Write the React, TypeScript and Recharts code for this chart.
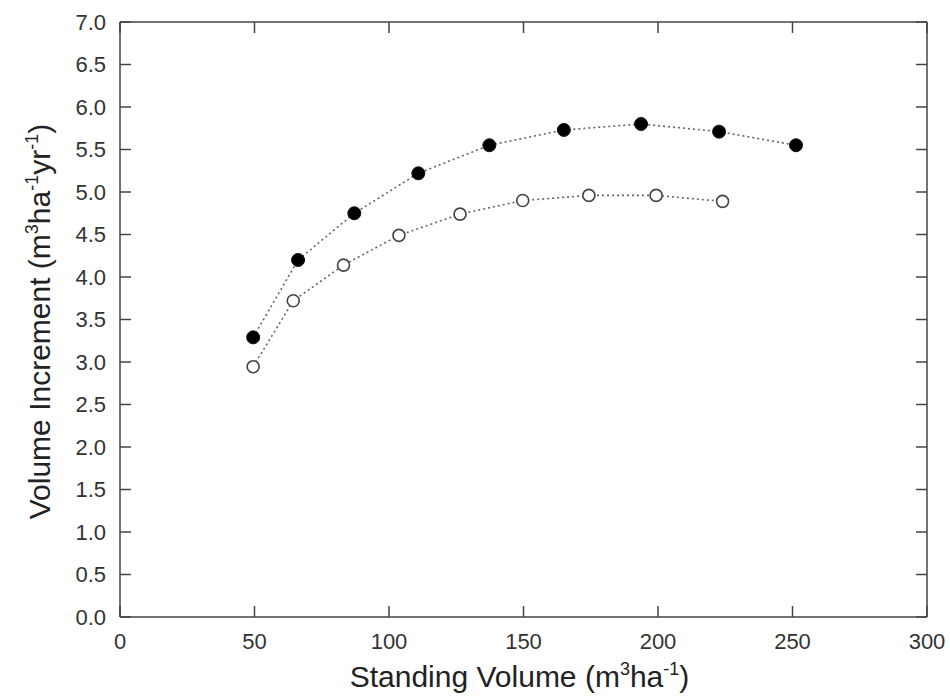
import React from "react";
import { ComposedChart, Line, XAxis, YAxis } from "recharts";

// Filled circles series
const filledX = [49.5, 66.2, 87.1, 110.9, 137.3, 165.0, 193.7, 222.7, 251.3];
const filledY = [3.29, 4.2, 4.75, 5.22, 5.55, 5.73, 5.8, 5.71, 5.55];
// Open circles series
const openX = [49.5, 64.4, 83.1, 103.7, 126.4, 149.7, 174.3, 199.3, 224.0];
const openY = [2.945, 3.72, 4.14, 4.49, 4.74, 4.9, 4.96, 4.96, 4.89];

const xTicks = [0, 50, 100, 150, 200, 250, 300];
const yTicks = [0, 0.5, 1, 1.5, 2, 2.5, 3, 3.5, 4, 4.5, 5, 5.5, 6, 6.5, 7];

const filledData = filledX.map((x, i) => ({ x, y: filledY[i] }));
const openData = openX.map((x, i) => ({ x, y: openY[i] }));

const FONT = "'Liberation Sans', Arial, sans-serif";
const AXIS = "#444";
const tickStyle = { fill: "#333", fontSize: 22, fontFamily: FONT };

const XTitle = (props: any) => {
  const vb = props.viewBox || { x: 120, y: 617, width: 807, height: 40 };
  const cx = vb.x + vb.width / 2 - 4;
  const y = vb.y + 70;
  return (
    <text x={cx} y={y} textAnchor="middle" fontSize={30} fill="#222" fontFamily={FONT}>
      Standing Volume (m
      <tspan dy={-12} fontSize={18}>3</tspan>
      <tspan dy={12}>ha</tspan>
      <tspan dy={-12} fontSize={18}>-1</tspan>
      <tspan dy={12}>)</tspan>
    </text>
  );
};

const YTitle = (props: any) => {
  const vb = props.viewBox || { x: 60, y: 22, width: 60, height: 595 };
  const x = vb.x - 10;
  const cy = vb.y + vb.height / 2 + 2;
  return (
    <text
      x={x}
      y={cy}
      transform={`rotate(-90 ${x} ${cy})`}
      textAnchor="middle"
      fontSize={30}
      fill="#222"
      fontFamily={FONT}
    >
      Volume Increment (m
      <tspan dy={-12} fontSize={18}>3</tspan>
      <tspan dy={12}>ha</tspan>
      <tspan dy={-12} fontSize={18}>-1</tspan>
      <tspan dy={12}>yr</tspan>
      <tspan dy={-12} fontSize={18}>-1</tspan>
      <tspan dy={12}>)</tspan>
    </text>
  );
};

const FilledDot = (props: any) => {
  const { cx, cy } = props;
  if (cx == null || cy == null) return null;
  return <circle cx={cx} cy={cy} r={6.5} fill="#000" stroke="#111" strokeWidth={1} />;
};

const OpenDot = (props: any) => {
  const { cx, cy } = props;
  if (cx == null || cy == null) return null;
  return <circle cx={cx} cy={cy} r={6} fill="#fff" stroke="#444" strokeWidth={1.6} />;
};

export default function App() {
  return (
    <div style={{ position: "absolute", left: 0, top: 0, width: 950, height: 699, background: "#fff" }}>
      <ComposedChart
        width={950}
        height={699}
        margin={{ top: 21, right: 22, bottom: 42, left: 60 }}
        style={{ fontFamily: FONT }}
      >
        <XAxis
          xAxisId="b"
          type="number"
          dataKey="x"
          domain={[0, 300]}
          ticks={xTicks}
          allowDataOverflow
          height={40}
          tickSize={-11}
          tickMargin={27}
          stroke={AXIS}
          strokeWidth={1.5}
          tick={tickStyle}
          tickLine={{ stroke: AXIS, strokeWidth: 1.5 }}
          axisLine={{ stroke: AXIS, strokeWidth: 1.5 }}
          label={<XTitle />}
        />
        <XAxis
          xAxisId="t"
          orientation="top"
          type="number"
          dataKey="x"
          domain={[0, 300]}
          ticks={xTicks}
          allowDataOverflow
          height={1}
          tickSize={-11}
          tickFormatter={() => ""}
          tickLine={{ stroke: AXIS, strokeWidth: 1.5 }}
          axisLine={{ stroke: AXIS, strokeWidth: 1.5 }}
        />
        <YAxis
          yAxisId="l"
          type="number"
          domain={[0, 7]}
          ticks={yTicks}
          allowDataOverflow
          width={60}
          tickSize={-11}
          tickMargin={25}
          tickFormatter={(v: number) => v.toFixed(1)}
          tick={tickStyle}
          tickLine={{ stroke: AXIS, strokeWidth: 1.5 }}
          axisLine={{ stroke: AXIS, strokeWidth: 1.5 }}
          label={<YTitle />}
        />
        <YAxis
          yAxisId="r"
          orientation="right"
          type="number"
          domain={[0, 7]}
          ticks={yTicks}
          allowDataOverflow
          width={1}
          tickSize={-11}
          tickFormatter={() => ""}
          tickLine={{ stroke: AXIS, strokeWidth: 1.5 }}
          axisLine={{ stroke: AXIS, strokeWidth: 1.5 }}
        />
        <Line
          xAxisId="b"
          yAxisId="l"
          data={filledData}
          dataKey="y"
          type="linear"
          stroke="#666"
          strokeWidth={1.6}
          strokeDasharray="2 3"
          dot={<FilledDot />}
          activeDot={false}
          isAnimationActive={false}
        />
        <Line
          xAxisId="b"
          yAxisId="l"
          data={openData}
          dataKey="y"
          type="linear"
          stroke="#666"
          strokeWidth={1.6}
          strokeDasharray="2 3"
          dot={<OpenDot />}
          activeDot={false}
          isAnimationActive={false}
        />
      </ComposedChart>
    </div>
  );
}
